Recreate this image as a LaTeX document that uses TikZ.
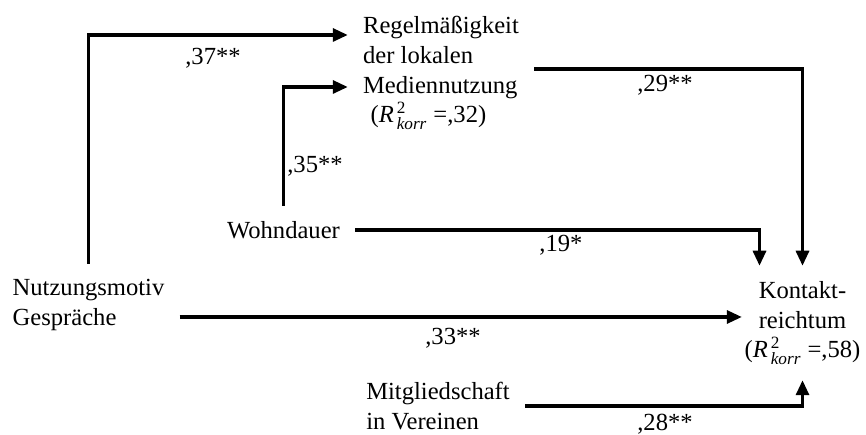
\documentclass[tikz,border=0pt]{standalone}
\usepackage{amsmath}
\usepackage{fontspec}
\setmainfont{Liberation Serif}
\usetikzlibrary{arrows.meta}
\tikzstyle{arrow}=[line width=1.8pt, -{Triangle[length=0.3cm, width=0.26cm]}]
\tikzstyle{var}=[inner sep=0.3cm, align=left, font=\fontsize{14}{17}\selectfont]
\tikzstyle{coef}=[inner sep=0pt, font=\fontsize{14}{17}\selectfont]
\newcommand{\rkorr}[1]{(\textit{R}$^{\,\text{2}}_{\,\text{\itshape korr}}$ =,#1)}

\begin{document}
\begin{tikzpicture}
    \useasboundingbox (0,0) rectangle (17.32,8.70);

    % Variables
    \node[var] (regel) at (8.82, 7.24) {Regelmäßigkeit\\der lokalen\\Mediennutzung\\\hspace*{0.15cm}\rkorr{32}};
    \node[var] (nutz) at (1.77, 2.60) {Nutzungsmotiv\\Gespräche};
    \node[var] (wohn) at (5.67, 4.10) {Wohndauer};
    \node[var] (mitg) at (8.76, 0.58) {Mitgliedschaft\\in Vereinen};
    \node[var, align=center, inner xsep=0.05cm] (kontakt) at (16.05, 2.24) {Kontakt-\\reichtum\\\rkorr{58}};

    % Paths
    \draw[arrow] (nutz.north) |- ([yshift=0.76cm]regel.west);
    \draw[arrow] (wohn.north) |- ([yshift=-0.28cm]regel.west);
    \draw[arrow] ([yshift=0.08cm]regel.east) -| (kontakt.north);
    \draw[arrow] (wohn.east) -| ([xshift=-0.86cm]kontakt.north);
    \draw[arrow] ([yshift=0.12cm]nutz.east |- kontakt.west) -- ([yshift=0.12cm]kontakt.west);
    \draw[arrow] (mitg.east) -| (kontakt.south);

    % Coefficients
    \node[coef] (b37) at (4.26, 7.53) {,37**};
    \node[coef] (b35) at (6.30, 5.38) {,35**};
    \node[coef] (b29) at (13.30, 6.99) {,29**};
    \node[coef] (b19) at (11.22, 3.79) {,19*};
    \node[coef] (b33) at (9.06, 1.93) {,33**};
    \node[coef] (b28) at (13.30, 0.22) {,28**};

\end{tikzpicture}
\end{document}
